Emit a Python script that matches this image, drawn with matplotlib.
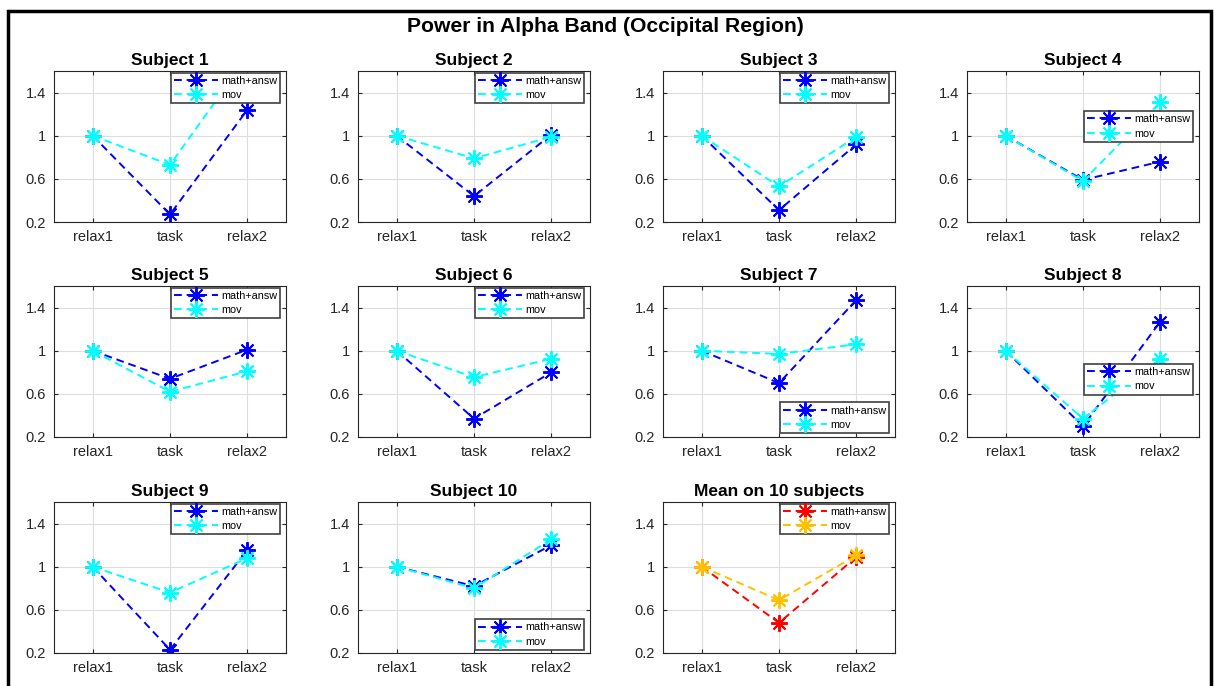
import numpy as np
import matplotlib
matplotlib.use("Agg")
from matplotlib import pyplot as plt
from matplotlib.patches import Rectangle

plt.rcParams['font.family'] = ['Liberation Sans', 'DejaVu Sans']

conditions = ['relax1', 'task', 'relax2']
subjects = ['Subject %d' % i for i in range(1, 11)]

math_answ = [
    [1, 0.27, 1.24],
    [1, 0.44, 1.01],
    [1, 0.31, 0.92],
    [1, 0.59, 0.76],
    [1, 0.74, 1.01],
    [1, 0.37, 0.80],
    [1, 0.70, 1.47],
    [1, 0.30, 1.27],
    [1, 0.23, 1.155],
    [1, 0.82, 1.20],
]
mov = [
    [1, 0.73, 1.73],
    [1, 0.79, 0.99],
    [1, 0.53, 0.99],
    [1, 0.58, 1.31],
    [1, 0.62, 0.81],
    [1, 0.755, 0.925],
    [1, 0.97, 1.06],
    [1, 0.37, 0.925],
    [1, 0.76, 1.08],
    [1, 0.80, 1.255],
]
mean_math = [1, 0.48, 1.09]
mean_mov = [1, 0.69, 1.105]

W, H = 1214, 686
fig = plt.figure(figsize=(W / 100, H / 100), dpi=100)

# black frame round the whole figure
fig.patches.append(Rectangle((8 / W, -0.02), (1211 - 8) / W, 1.02 - 11 / H,
                             transform=fig.transFigure, fill=False,
                             edgecolor='black', linewidth=2.5))
fig.text(605 / W, 1 - 27 / H, 'Power in Alpha Band (Occipital Region)',
         ha='center', va='center', fontsize=15.2, fontweight='bold')

col_left = [54, 358, 663, 967]
row_top = [71, 286, 502]
ax_w, ax_h = 232, 151

# legend anchor (loc, bbox) per panel
leg_pos = {0: ('upper right', (0.975, 0.99)), 3: ('upper right', (0.975, 0.735)),
           6: ('lower right', (0.975, 0.025)), 7: ('upper right', (0.975, 0.485)),
           9: ('lower right', (0.975, 0.02))}

asterisk = (8, 2, 0)
x = np.arange(1, 4)


def panel(i, title, y1, y2, c1, c2):
    r, c = divmod(i, 4)
    ax = fig.add_axes([col_left[c] / W, 1 - (row_top[r] + ax_h) / H, ax_w / W, ax_h / H])
    ax.plot(x, y1, color=c1, linestyle='--', dashes=(4, 2.5), linewidth=1.4,
            marker=asterisk, markersize=12, markeredgewidth=1.4, label='math+answ')
    ax.plot(x, y2, color=c2, linestyle='--', dashes=(4, 2.5), linewidth=1.4,
            marker=asterisk, markersize=12, markeredgewidth=1.4, label='mov')
    ax.set_xlim(0.5, 3.5)
    ax.set_ylim(0.2, 1.6)
    ax.set_xticks(x)
    ax.set_xticklabels(conditions)
    ax.set_yticks([0.2, 0.6, 1.0, 1.4])
    ax.set_yticklabels(['0.2', '0.6', '1', '1.4'])
    ax.tick_params(direction='in', length=3, width=0.8, colors='0.15', labelsize=10.5,
                   top=True, right=True, pad=6)
    ax.grid(True, color='0.87', linewidth=0.8)
    ax.set_axisbelow(True)
    for s in ax.spines.values():
        s.set_color('0.15')
        s.set_linewidth(0.8)
    ax.set_title(title, fontsize=12.5, fontweight='bold', pad=4)
    loc, anchor = leg_pos.get(i, ('upper right', (0.975, 0.99)))
    leg = ax.legend(loc=loc, bbox_to_anchor=anchor, borderaxespad=0, fontsize=7.8,
                    handlelength=4, fancybox=False, framealpha=1, edgecolor='0.25',
                    borderpad=0.3, labelspacing=0.4, handletextpad=0.3)
    leg.get_frame().set_linewidth(1.2)
    return ax


for i in range(10):
    panel(i, subjects[i], math_answ[i], mov[i], 'blue', 'cyan')
panel(10, 'Mean on 10 subjects', mean_math, mean_mov, 'red', '#ffc000')

fig.savefig('out.png', dpi=100)
